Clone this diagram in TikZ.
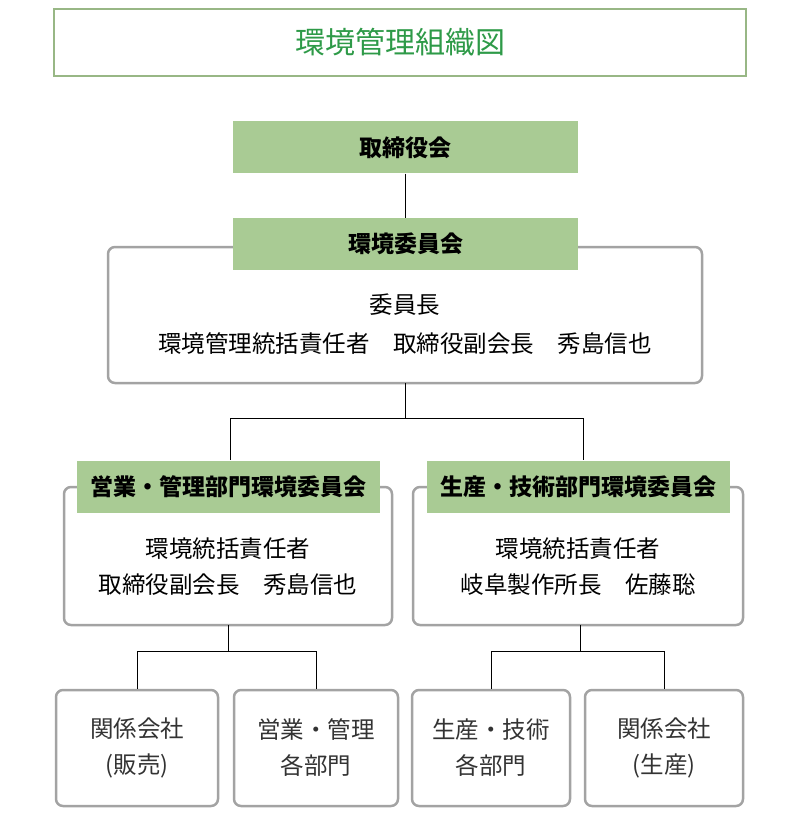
\documentclass[tikz,border=0pt]{standalone}
\usepackage{fontspec}
\setmainfont{Noto Sans CJK JP}
\usetikzlibrary{positioning}
\definecolor{leaf}{HTML}{A9CB94}
\definecolor{deepleaf}{HTML}{2E9A48}
\definecolor{frame}{HTML}{A3A3A3}
\begin{document}
\begin{tikzpicture}[x=1pt,y=-1pt,font=\fontsize{23.5}{36}\selectfont]
\tikzset{%
	title/.style = {draw=leaf!90!black, line width=2pt, minimum width=692pt, minimum height=67pt, text=deepleaf, font=\fontsize{30}{34}\selectfont},
	head/.style = {fill=leaf, minimum height=52pt, font=\fontsize{23}{26}\selectfont\bfseries},
	panel/.style = {draw=frame, line width=2.5pt, rounded corners=7pt},
	leafbox/.style = {draw=frame, line width=2.5pt, rounded corners=7pt, minimum width=162pt, minimum height=116pt, align=center, text=black!80},
	con/.style = {line width=.8pt}
}
\useasboundingbox (0,0) rectangle (800,818);

% Title
\node[title] (title) at (400,42.5) {環境管理組織図};

% Board and committee
\node[head, minimum width=345pt] (board) at (405.5,147.5) {取締役会};
\draw[panel] (108,247) rectangle (702,383);
\node[head, minimum width=345pt] (committee) at (405.5,244) {環境委員会};
\node (chair) at (405,305) {委員長};
\node (chairname) at (405,344) {環境管理統括責任者\quad 取締役副会長\quad 秀島信也};
\coordinate (cbot) at (405,383);

% Divisions
\draw[panel] (64,487) rectangle (392,625);
\node[head, minimum width=303pt] (sales) at (228.5,486.5) {営業・管理部門環境委員会};
\node (salesrole) at (228,549) {環境統括責任者};
\node (salesname) at (228,585) {取締役副会長\quad 秀島信也};
\coordinate (sbot) at (228,625);

\draw[panel] (413,487) rectangle (743,625);
\node[head, minimum width=303pt] (tech) at (578.5,486.5) {生産・技術部門環境委員会};
\node (techrole) at (578,549) {環境統括責任者};
\node (techname) at (578,585) {岐阜製作所長\quad 佐藤聡};
\coordinate (tbot) at (580,625);

% Units
\node[leafbox] (u1) at (137,748) {関係会社\\(販売)};
\node[leafbox, minimum width=164pt] (u2) at (316,748) {営業・管理\\各部門};
\node[leafbox, minimum width=158pt] (u3) at (491,748) {生産・技術\\各部門};
\node[leafbox, minimum width=158pt] (u4) at (664,748) {関係会社\\(生産)};

% Connectors
\draw[con] (board.south) -- (committee.north);
\draw[con] (cbot) -- ++(0,35) -| (sales.north -| 230,0);
\draw[con] (cbot) ++(0,35) -| (tech.north -| 583,0);
\draw[con] (sbot) -- ++(0,26) -| (u1.north);
\draw[con] (sbot) ++(0,26) -| (u2.north);
\draw[con] (tbot) -- ++(0,26) -| (u3.north);
\draw[con] (tbot) ++(0,26) -| (u4.north);
\end{tikzpicture}
\end{document}
